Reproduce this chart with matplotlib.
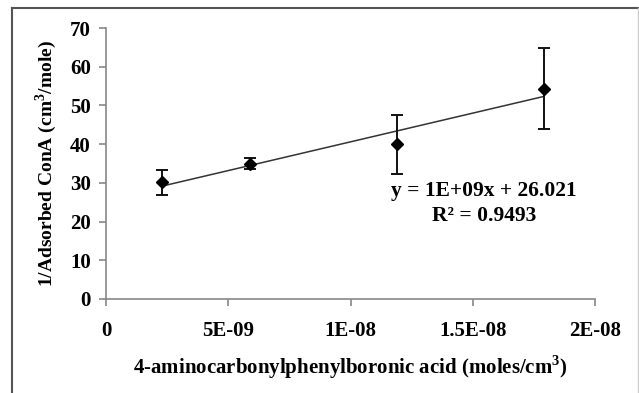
import numpy as np
import matplotlib.pyplot as plt
from matplotlib.lines import Line2D

# concentration of boronic acid (moles/cm3) and 1/adsorbed ConA
conc = [2.3e-9, 5.9e-9, 1.19e-8, 1.79e-8]
inv_ads = [30.1, 35.0, 40.0, 54.3]
err = [3.2, 1.4, 7.6, 10.5]

x_ticks = [0, 5e-9, 1e-8, 1.5e-8, 2e-8]
x_tick_labels = ['0', '5E-09', '1E-08', '1.5E-08', '2E-08']
y_ticks = [0, 10, 20, 30, 40, 50, 60, 70]

plt.rcParams['font.family'] = ['Liberation Serif', 'DejaVu Serif']
plt.rcParams['font.weight'] = 'bold'
plt.rcParams['mathtext.fontset'] = 'custom'
plt.rcParams['mathtext.rm'] = 'Liberation Serif:bold'
plt.rcParams['mathtext.bf'] = 'Liberation Serif:bold'

fig = plt.figure(figsize=(6.39, 3.93), dpi=100)
ax = fig.add_axes([106 / 639, 94 / 393, 489 / 639, 271 / 393])

ax.errorbar(conc, inv_ads, yerr=err, fmt='D', color='black', ms=6.5,
            ecolor='#111111', elinewidth=1.4, capsize=4, capthick=1.4, zorder=3)

# linear trendline
slope, intercept = np.polyfit(conc, inv_ads, 1)
xs = np.array([conc[0], conc[-1]])
ax.plot(xs, slope * xs + intercept, color='#333333', lw=1.1, zorder=2)

ax.text(0.773, 0.40, 'y = 1E+09x + 26.021', transform=ax.transAxes,
        ha='center', va='center', fontsize=15.5, fontweight='bold')
ax.text(0.773, 0.305, 'R² = 0.9493', transform=ax.transAxes,
        ha='center', va='center', fontsize=15.5, fontweight='bold')

ax.set_xlim(0, 2e-8)
ax.set_ylim(0, 70)
ax.set_xticks(x_ticks)
ax.set_xticklabels(x_tick_labels)
ax.set_yticks(y_ticks)

for side in ['top', 'right']:
    ax.spines[side].set_visible(False)
for side in ['left', 'bottom']:
    ax.spines[side].set_color('#888888')
    ax.spines[side].set_linewidth(1.2)

ax.tick_params(axis='both', colors='#888888', length=5, width=1.2, labelsize=15,
               labelcolor='black')
ax.tick_params(axis='x', pad=11)
ax.tick_params(axis='y', pad=6)
for lab in ax.get_xticklabels() + ax.get_yticklabels():
    lab.set_fontweight('bold')

ax.set_xlabel('4-aminocarbonylphenylboronic acid (moles/cm$^{3}$)',
              fontsize=15, fontweight='bold', labelpad=9)
ax.set_ylabel('1/Adsorbed ConA (cm$^{3}$/mole)',
              fontsize=14, fontweight='bold', labelpad=8)

# outer chart frame
W, H = 639, 393
frame_kw = dict(color='#555555', lw=1.5, transform=fig.transFigure)
fig.add_artist(Line2D([12 / W, 12 / W], [0, 1 - 8 / H], **frame_kw))
fig.add_artist(Line2D([12 / W, 638 / W], [1 - 8 / H, 1 - 8 / H], **frame_kw))
fig.add_artist(Line2D([638 / W, 638 / W], [0, 1 - 8 / H], color='#cccccc', lw=1,
                      transform=fig.transFigure))

fig.savefig('out.png', dpi=100)
